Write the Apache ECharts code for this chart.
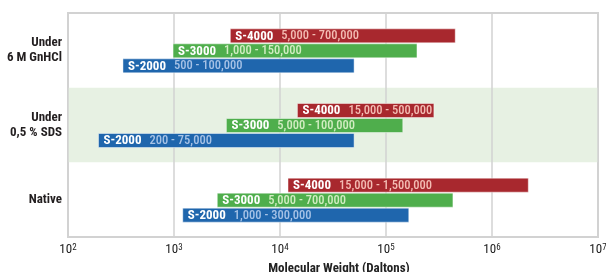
<!DOCTYPE html>
<html>
<head>
<meta charset="utf-8">
<script src="https://cdn.jsdelivr.net/npm/echarts@6/dist/echarts.min.js"></script>
<style>
  html, body { margin: 0; padding: 0; background: #fff; }
  #chart { width: 606px; height: 272px; }
</style>
</head>
<body>
<div id="chart"></div>
<script>
// conditions (top to bottom)
const conditions = ['Under\n6 M GnHCl', 'Under\n0,5 % SDS', 'Native'];

// bar extents (Daltons), one value per condition
const s4000Start = [3400, 14600, 11900];
const s4000End = [450000, 283000, 2200000];
const s4000Range = ['5,000 - 700,000', '15,000 - 500,000', '15,000 - 1,500,000'];

const s3000Start = [980, 3120, 2560];
const s3000End = [196000, 144000, 428000];
const s3000Range = ['1,000 - 150,000', '5,000 - 100,000', '5,000 - 700,000'];

const s2000Start = [330, 194, 1210];
const s2000End = [50000, 50000, 164000];
const s2000Range = ['500 - 100,000', '200 - 75,000', '1,000 - 300,000'];

const FONT = "'Liberation Sans Narrow', 'Arial Narrow', 'Roboto Condensed', 'Liberation Sans', sans-serif";

function rows(starts, ends) {
  return starts.map((s, i) => [i, s, ends[i]]);
}

// draws one range bar with its name + range label
function makeRender(name, ranges, offset, fill, textColor) {
  return function (params, api) {
    const cat = api.value(0);
    const p0 = api.coord([api.value(1), cat]);
    const p1 = api.coord([api.value(2), cat]);
    const h = 14;
    const cy = p0[1] + offset;
    return {
      type: 'group',
      children: [
        {
          type: 'rect',
          shape: { x: p0[0], y: cy - h / 2, width: p1[0] - p0[0], height: h },
          style: { fill: fill, stroke: 'rgba(255,255,255,0.45)', lineWidth: 1 }
        },
        {
          type: 'text',
          style: {
            x: p0[0] + 5,
            y: cy + 0.5,
            verticalAlign: 'middle',
            fill: '#fff',
            text: '{n|' + name + '}{r|' + ranges[params.dataIndex] + '}',
            rich: {
              n: { fontFamily: FONT, fontSize: 13, fontWeight: 'bold', fill: '#fff' },
              r: { fontFamily: FONT, fontSize: 12.5, fontWeight: 500, fill: textColor, padding: [0, 0, 0, 8] }
            }
          }
        }
      ]
    };
  };
}

const chart = echarts.init(document.getElementById('chart'));
chart.setOption({
  animation: false,
  grid: {
    left: 68, right: 8, top: 13, bottom: 35,
    outerBoundsMode: 'none',
    containLabel: false,
    show: true, borderColor: '#d2d2d2', borderWidth: 2
  },
  xAxis: {
    type: 'log',
    logBase: 10,
    min: 100,
    max: 10000000,
    axisLine: { show: false },
    axisTick: { show: false },
    splitLine: { show: true, lineStyle: { color: '#d2d2d2', width: 1.5 } },
    axisLabel: {
      margin: 6,
      formatter: (v) => '{b|10}{s|' + Math.round(Math.log10(v)) + '}',
      rich: {
        b: { fontFamily: FONT, fontSize: 13, color: '#222' },
        s: { fontFamily: FONT, fontSize: 9, color: '#222', verticalAlign: 'top' }
      }
    },
    name: 'Molecular Weight (Daltons)',
    nameLocation: 'middle',
    nameGap: 25,
    nameTextStyle: { fontFamily: FONT, fontSize: 13, fontWeight: 'bold', color: '#222', padding: [0, 0, 0, 12] }
  },
  yAxis: {
    type: 'category',
    inverse: true,
    data: conditions,
    axisLine: { show: false },
    axisTick: { show: false },
    splitLine: { show: false },
    splitArea: { show: true, areaStyle: { color: ['rgba(0,0,0,0)', '#e7f1e3'] } },
    axisLabel: {
      margin: 6,
      fontFamily: FONT,
      fontSize: 13,
      fontWeight: 'bold',
      color: '#231f20',
      lineHeight: 15
    }
  },
  series: [
    {
      name: 'S-4000', type: 'custom',
      renderItem: makeRender('S-4000', s4000Range, -14.5, '#a8282e', '#f3bcb3'),
      encode: { x: [1, 2], y: 0 },
      data: rows(s4000Start, s4000End)
    },
    {
      name: 'S-3000', type: 'custom',
      renderItem: makeRender('S-3000', s3000Range, 0.5, '#4fae4c', '#d2edc2'),
      encode: { x: [1, 2], y: 0 },
      data: rows(s3000Start, s3000End)
    },
    {
      name: 'S-2000', type: 'custom',
      renderItem: makeRender('S-2000', s2000Range, 15.5, '#1f66ad', '#a6c2e6'),
      encode: { x: [1, 2], y: 0 },
      data: rows(s2000Start, s2000End)
    }
  ]
});
</script>
</body>
</html>
